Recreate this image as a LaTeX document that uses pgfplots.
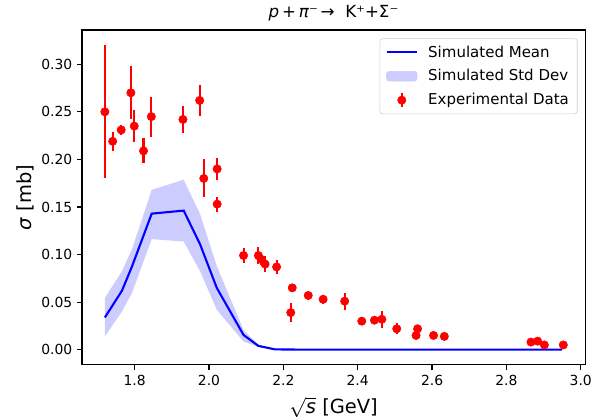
\documentclass[border=0pt]{standalone}
\usepackage{fontspec}
\setmainfont{DejaVu Sans}
\usepackage{pgfplots}
\pgfplotsset{compat=1.18}
\usepgfplotslibrary{fillbetween}
\definecolor{bandblue}{RGB}{204,204,255}
\begin{document}
\begin{tikzpicture}
\begin{axis}[
  name=ax,
  scale only axis,
  width=362pt, height=241pt,
  xmin=1.6585, xmax=3.0115,
  ymin=-0.016, ymax=0.336,
  xtick={1.8,2.0,2.2,2.4,2.6,2.8,3.0},
  ytick={0,0.05,0.10,0.15,0.20,0.25,0.30},
  xticklabel style={/pgf/number format/.cd, fixed, fixed zerofill, precision=1},
  yticklabel style={/pgf/number format/.cd, fixed, fixed zerofill, precision=2},
  /pgf/number format/assume math mode=true,
  tick label style={font=\fontsize{10}{12}\selectfont},
  tick align=outside,
  tick pos=left,
  major tick length=3.5pt,
  every tick/.style={black, line width=0.8pt},
  axis line style={line width=0.8pt},
  title={\textit{p}\,+\,\textit{π}⁻\,→\ \ K⁺+Σ⁻},
  title style={font=\fontsize{12}{14}\selectfont, yshift=-3pt},
  xlabel={$\sqrt{\mbox{\textit{s}}}$ [GeV]},
  ylabel={\textit{σ} [mb]},
  label style={font=\fontsize{14}{16}\selectfont},
  xlabel style={yshift=-1.5pt},
  ylabel style={yshift=-2pt},
  legend style={at={(0.985,0.975)}, anchor=north east, draw=black!20, rounded corners=2pt,
    font=\fontsize{10.8}{12}\selectfont, cells={anchor=west}, row sep=3.5pt, inner xsep=4pt, inner ysep=3pt},
  legend cell align=left,
]
\addplot[name path=up, draw=none, forget plot] coordinates {
(1.720,0.0544) (1.766,0.0826) (1.793,0.1056) (1.846,0.1680) (1.932,0.1787)
(1.976,0.1427) (2.021,0.0879) (2.093,0.0208) (2.133,0.0050) (2.178,0.0010)
(2.30,0) (2.50,0) (2.70,0) (2.95,0)};
\addplot[name path=lo, draw=none, forget plot] coordinates {
(1.720,0.0138) (1.766,0.0403) (1.793,0.0597) (1.846,0.1162) (1.932,0.1137)
(1.976,0.0826) (2.021,0.0420) (2.093,0.0085) (2.133,0.0030) (2.178,0.0000)
(2.30,0) (2.50,0) (2.70,0) (2.95,0)};
\addplot[bandblue, forget plot] fill between[of=up and lo];
\addplot[blue, line width=1.5pt, forget plot] coordinates {
(1.720,0.0339) (1.766,0.0620) (1.793,0.0875) (1.846,0.1430) (1.932,0.1462)
(1.976,0.1109) (2.021,0.0650) (2.093,0.0155) (2.133,0.0040) (2.178,0.0003)
(2.30,0) (2.50,0) (2.70,0) (2.95,0)};
\addplot[forget plot, only marks, mark=*, mark size=3pt, red, mark options={fill=red, draw=red},
  error bars/.cd, y dir=both, y explicit, error mark=none,
  error bar style={red, line width=1.5pt}]
  table[x=x, y=y, y error=e] {
x y e
1.720 0.250 0.070
1.741 0.219 0.010
1.764 0.231 0.005
1.790 0.270 0.028
1.799 0.235 0.017
1.824 0.209 0.013
1.845 0.245 0.021
1.930 0.242 0.014
1.975 0.262 0.016
1.986 0.180 0.020
2.022 0.190 0.012
2.022 0.153 0.008
2.093 0.099 0.008
2.133 0.099 0.009
2.140 0.095 0.006
2.151 0.090 0.008
2.182 0.087 0.007
2.224 0.065 0.004
2.220 0.039 0.010
2.267 0.057 0.003
2.307 0.053 0.005
2.365 0.051 0.009
2.411 0.030 0.003
2.445 0.031 0.003
2.465 0.032 0.009
2.505 0.022 0.006
2.557 0.015 0.004
2.561 0.022 0.003
2.604 0.015 0.003
2.633 0.014 0.003
2.866 0.008 0.003
2.884 0.009 0.003
2.902 0.005 0.003
2.953 0.005 0.003
};
\addlegendimage{legend image code/.code={\path[draw=none,fill=none] (0pt,0pt)--(28pt,0pt); \draw[blue, line width=1.5pt] (0pt,0pt)--(22pt,0pt);}}
\addlegendentry{Simulated Mean}
\addlegendimage{legend image code/.code={\path[draw=none,fill=none] (0pt,0pt)--(28pt,0pt); \fill[bandblue] (0pt,-3.5pt) rectangle (22pt,3.5pt);}}
\addlegendentry{Simulated Std Dev}
\addlegendimage{legend image code/.code={\path[draw=none,fill=none] (0pt,0pt)--(28pt,0pt); \draw[red, line width=1.5pt] (11pt,-5pt)--(11pt,5pt); \fill[red] (11pt,0pt) circle (3pt);}}
\addlegendentry{Experimental Data}
\end{axis}
\pgfresetboundingbox
\path[use as bounding box] ([shift={(-59pt,-37.4pt)}]ax.south west) rectangle ([shift={(5pt,21.6pt)}]ax.north east);
\end{tikzpicture}
\end{document}
